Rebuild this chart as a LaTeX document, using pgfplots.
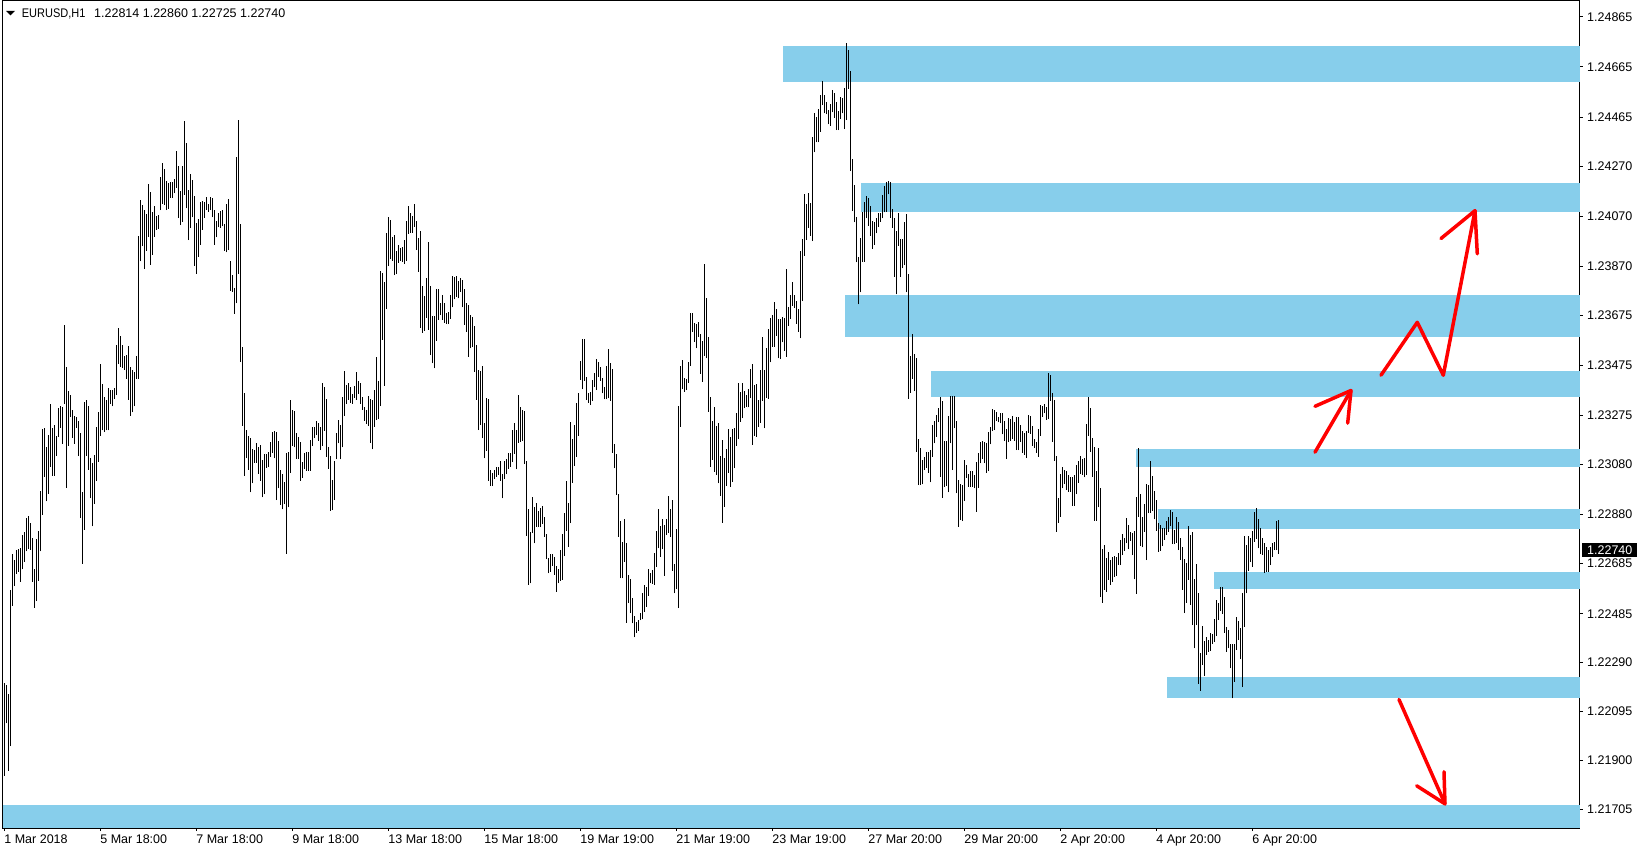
\documentclass[border=0pt]{standalone}
\usepackage{pgfplots}
\pgfplotsset{compat=1.18}
\usepackage{pgfplotstable}
\usepackage{fontspec}
\setmainfont{Liberation Sans}
\usepackage{graphicx}
\definecolor{band}{RGB}{135,206,235}
\definecolor{arr}{RGB}{255,0,0}
\newcommand{\tfont}{\fontsize{12.5}{14}\selectfont}

\pgfplotstableread{
i lo hi
0 1.21840 1.22210
1 1.22048 1.22201
2 1.21858 1.22165
3 1.21957 1.22581
4 1.22517 1.22725
5 1.22595 1.22698
6 1.22644 1.22740
7 1.22653 1.22743
8 1.22613 1.22747
9 1.22662 1.22797
10 1.22693 1.22812
11 1.22734 1.22866
12 1.22743 1.22873
13 1.22740 1.22848
14 1.22613 1.22788
15 1.22508 1.22662
16 1.22535 1.22783
17 1.22617 1.22815
18 1.22734 1.22974
19 1.22879 1.23222
20 1.23032 1.23227
21 1.22933 1.23149
22 1.22963 1.23198
23 1.23072 1.23321
24 1.23036 1.23227
25 1.23036 1.23238
26 1.23113 1.23195
27 1.23191 1.23307
28 1.23227 1.23312
29 1.23162 1.23308
30 1.23321 1.23637
31 1.22987 1.23469
32 1.23155 1.23372
33 1.23270 1.23357
34 1.23186 1.23299
35 1.23162 1.23274
36 1.23227 1.23270
37 1.23113 1.23252
38 1.22866 1.23204
39 1.22685 1.22969
40 1.22819 1.23328
41 1.23113 1.23336
42 1.23059 1.23312
43 1.22945 1.23104
44 1.22833 1.23086
45 1.22924 1.23119
46 1.23014 1.23231
47 1.23090 1.23289
48 1.23195 1.23480
49 1.23216 1.23402
50 1.23209 1.23348
51 1.23216 1.23339
52 1.23216 1.23384
53 1.23321 1.23379
54 1.23312 1.23379
55 1.23343 1.23386
56 1.23357 1.23556
57 1.23480 1.23624
58 1.23469 1.23592
59 1.23466 1.23556
60 1.23457 1.23511
61 1.23420 1.23516
62 1.23339 1.23552
63 1.23274 1.23469
64 1.23288 1.23457
65 1.23312 1.23448
66 1.23420 1.23511
67 1.23420 1.23993
68 1.23890 1.24134
69 1.23950 1.24116
70 1.23859 1.24094
71 1.23932 1.24080
72 1.23989 1.24197
73 1.23877 1.24166
74 1.23917 1.24087
75 1.23989 1.24112
76 1.24016 1.24072
77 1.24018 1.24076
78 1.24094 1.24228
79 1.24119 1.24282
80 1.24116 1.24257
81 1.24094 1.24210
82 1.24098 1.24202
83 1.24143 1.24206
84 1.24143 1.24206
85 1.24161 1.24220
86 1.24184 1.24329
87 1.24062 1.24269
88 1.24034 1.24170
89 1.24047 1.24269
90 1.24155 1.24450
91 1.24101 1.24360
92 1.23975 1.24173
93 1.24022 1.24238
94 1.24065 1.24215
95 1.23872 1.24152
96 1.23841 1.24043
97 1.23908 1.24058
98 1.23957 1.24125
99 1.24016 1.24130
100 1.24062 1.24125
101 1.24094 1.24148
102 1.24087 1.24119
103 1.24094 1.24148
104 1.24065 1.24143
105 1.23957 1.24094
106 1.23986 1.24052
107 1.24025 1.24083
108 1.24022 1.24089
109 1.24029 1.24094
110 1.23932 1.24040
111 1.23926 1.24119
112 1.23935 1.24137
113 1.23773 1.23890
114 1.23769 1.23836
115 1.23682 1.23782
116 1.23722 1.24305
117 1.23841 1.24455
118 1.23489 1.24040
119 1.23234 1.23547
120 1.23036 1.23366
121 1.23104 1.23216
122 1.23059 1.23195
123 1.22969 1.23186
124 1.23005 1.23140
125 1.23086 1.23137
126 1.23086 1.23166
127 1.23044 1.23148
128 1.23015 1.23157
129 1.22949 1.23098
130 1.22962 1.23121
131 1.23068 1.23121
132 1.23071 1.23131
133 1.23111 1.23171
134 1.23127 1.23209
135 1.23104 1.23214
136 1.22938 1.23209
137 1.22985 1.23175
138 1.22919 1.23060
139 1.22901 1.23042
140 1.22922 1.23011
141 1.22725 1.23127
142 1.22909 1.23131
143 1.23047 1.23337
144 1.23153 1.23297
145 1.23148 1.23293
146 1.23103 1.23204
147 1.23103 1.23188
148 1.23015 1.23169
149 1.23028 1.23091
150 1.23063 1.23127
151 1.23055 1.23131
152 1.23055 1.23129
153 1.23055 1.23177
154 1.23153 1.23228
155 1.23184 1.23230
156 1.23197 1.23254
157 1.23175 1.23244
158 1.23137 1.23228
159 1.23153 1.23406
160 1.23214 1.23390
161 1.23111 1.23342
162 1.23063 1.23151
163 1.22895 1.23113
164 1.22898 1.23018
165 1.22938 1.23095
166 1.23100 1.23207
167 1.23164 1.23257
168 1.23100 1.23237
169 1.23148 1.23350
170 1.23273 1.23454
171 1.23323 1.23398
172 1.23339 1.23406
173 1.23326 1.23387
174 1.23323 1.23361
175 1.23347 1.23393
176 1.23339 1.23450
177 1.23363 1.23414
178 1.23323 1.23403
179 1.23299 1.23350
180 1.23254 1.23310
181 1.23241 1.23297
182 1.23233 1.23353
183 1.23167 1.23343
184 1.23140 1.23339
185 1.23230 1.23379
186 1.23257 1.23509
187 1.23260 1.23414
188 1.23313 1.23852
189 1.23578 1.23844
190 1.23393 1.23809
191 1.23698 1.24004
192 1.23871 1.24065
193 1.23898 1.24054
194 1.23892 1.23988
195 1.23835 1.23995
196 1.23839 1.23932
197 1.23884 1.23955
198 1.23892 1.23945
199 1.23888 1.23948
200 1.23879 1.23977
201 1.23892 1.24052
202 1.23999 1.24110
203 1.24004 1.24084
204 1.24004 1.24070
205 1.24028 1.24118
206 1.23935 1.24052
207 1.23848 1.23984
208 1.23626 1.24012
209 1.23605 1.23791
210 1.23613 1.23751
211 1.23666 1.23822
212 1.23618 1.23968
213 1.23516 1.23791
214 1.23483 1.23672
215 1.23463 1.23672
216 1.23573 1.23778
217 1.23656 1.23778
218 1.23676 1.23722
219 1.23658 1.23755
220 1.23645 1.23725
221 1.23640 1.23685
222 1.23640 1.23689
223 1.23662 1.23755
224 1.23706 1.23831
225 1.23738 1.23826
226 1.23749 1.23831
227 1.23742 1.23813
228 1.23769 1.23822
229 1.23706 1.23815
230 1.23636 1.23778
231 1.23609 1.23722
232 1.23509 1.23716
233 1.23543 1.23676
234 1.23549 1.23669
235 1.23450 1.23632
236 1.23339 1.23556
237 1.23217 1.23456
238 1.23237 1.23452
239 1.23184 1.23472
240 1.23104 1.23244
241 1.23135 1.23347
242 1.23015 1.23343
243 1.22994 1.23060
244 1.22994 1.23047
245 1.23024 1.23060
246 1.23031 1.23071
247 1.23038 1.23071
248 1.23015 1.23095
249 1.22945 1.23042
250 1.23024 1.23095
251 1.23042 1.23100
252 1.23064 1.23124
253 1.23071 1.23124
254 1.23091 1.23218
255 1.23122 1.23244
256 1.23061 1.23218
257 1.23167 1.23357
258 1.23171 1.23308
259 1.23175 1.23297
260 1.23082 1.23295
261 1.22795 1.23095
262 1.22600 1.22901
263 1.22606 1.22812
264 1.22806 1.22949
265 1.22766 1.22909
266 1.22832 1.22928
267 1.22830 1.22896
268 1.22830 1.22905
269 1.22843 1.22915
270 1.22792 1.22869
271 1.22702 1.22803
272 1.22646 1.22706
273 1.22653 1.22723
274 1.22675 1.22723
275 1.22640 1.22710
276 1.22573 1.22675
277 1.22606 1.22662
278 1.22617 1.22739
279 1.22620 1.22803
280 1.22715 1.22885
281 1.22816 1.23016
282 1.22752 1.22928
283 1.22846 1.23251
284 1.23008 1.23180
285 1.23074 1.23238
286 1.23111 1.23327
287 1.23194 1.23366
288 1.23417 1.23494
289 1.23380 1.23579
290 1.23414 1.23579
291 1.23337 1.23428
292 1.23327 1.23366
293 1.23317 1.23370
294 1.23335 1.23417
295 1.23388 1.23446
296 1.23377 1.23499
297 1.23430 1.23489
298 1.23414 1.23468
299 1.23364 1.23424
300 1.23340 1.23388
301 1.23340 1.23473
302 1.23344 1.23539
303 1.23335 1.23483
304 1.23127 1.23459
305 1.23065 1.23162
306 1.22959 1.23122
307 1.22792 1.22962
308 1.22626 1.22856
309 1.22626 1.22772
310 1.22693 1.22861
311 1.22449 1.22766
312 1.22527 1.22640
313 1.22487 1.22622
314 1.22447 1.22547
315 1.22391 1.22476
316 1.22410 1.22453
317 1.22418 1.22460
318 1.22460 1.22487
319 1.22463 1.22566
320 1.22493 1.22600
321 1.22513 1.22593
322 1.22556 1.22662
323 1.22606 1.22649
324 1.22604 1.22659
325 1.22600 1.22726
326 1.22673 1.22816
327 1.22746 1.22901
328 1.22713 1.22835
329 1.22742 1.22861
330 1.22636 1.22839
331 1.22799 1.22861
332 1.22806 1.22954
333 1.22790 1.22901
334 1.22657 1.22939
335 1.22566 1.22683
336 1.22582 1.22822
337 1.22507 1.23313
338 1.23231 1.23473
339 1.23380 1.23497
340 1.23371 1.23424
341 1.23377 1.23420
342 1.23406 1.23490
343 1.23473 1.23686
344 1.23610 1.23683
345 1.23570 1.23646
346 1.23543 1.23640
347 1.23590 1.23650
348 1.23441 1.23600
349 1.23410 1.23574
350 1.23513 1.23879
351 1.23503 1.23743
352 1.23291 1.23587
353 1.23071 1.23348
354 1.23098 1.23255
355 1.23052 1.23308
356 1.23038 1.23234
357 1.23005 1.23247
358 1.22954 1.23114
359 1.22848 1.23178
360 1.22912 1.23105
361 1.22994 1.23141
362 1.23048 1.23220
363 1.22992 1.23188
364 1.23012 1.23220
365 1.23065 1.23224
366 1.23154 1.23284
367 1.23180 1.23404
368 1.23251 1.23370
369 1.23264 1.23406
370 1.23304 1.23374
371 1.23311 1.23357
372 1.23308 1.23380
373 1.23344 1.23459
374 1.23158 1.23481
375 1.23194 1.23397
376 1.23191 1.23401
377 1.23231 1.23337
378 1.23247 1.23457
379 1.23335 1.23590
380 1.23224 1.23457
381 1.23346 1.23543
382 1.23343 1.23620
383 1.23487 1.23665
384 1.23549 1.23676
385 1.23549 1.23729
386 1.23593 1.23700
387 1.23503 1.23660
388 1.23500 1.23662
389 1.23567 1.23669
390 1.23532 1.23665
391 1.23510 1.23859
392 1.23633 1.23709
393 1.23662 1.23755
394 1.23713 1.23809
395 1.23705 1.23755
396 1.23642 1.23731
397 1.23609 1.23700
398 1.23583 1.23931
399 1.23731 1.23979
400 1.23912 1.24157
401 1.23975 1.24117
402 1.24024 1.24161
403 1.23992 1.24121
404 1.23971 1.24387
405 1.24324 1.24480
406 1.24364 1.24466
407 1.24364 1.24497
408 1.24407 1.24553
409 1.24513 1.24609
410 1.24480 1.24555
411 1.24476 1.24526
412 1.24436 1.24493
413 1.24430 1.24516
414 1.24484 1.24573
415 1.24462 1.24563
416 1.24413 1.24526
417 1.24413 1.24489
418 1.24457 1.24546
419 1.24480 1.24542
420 1.24417 1.24582
421 1.24453 1.24759
422 1.24579 1.24732
423 1.24250 1.24648
424 1.24090 1.24300
425 1.24045 1.24194
426 1.23886 1.24068
427 1.23718 1.23908
428 1.23766 1.23984
429 1.23888 1.24088
430 1.23888 1.24127
431 1.24061 1.24151
432 1.24032 1.24143
433 1.23992 1.24112
434 1.23941 1.24050
435 1.23957 1.24045
436 1.24001 1.24064
437 1.24028 1.24081
438 1.24048 1.24081
439 1.24061 1.24154
440 1.24085 1.24191
441 1.24088 1.24207
442 1.24157 1.24210
443 1.24064 1.24205
444 1.24024 1.24098
445 1.23829 1.24064
446 1.23758 1.24011
447 1.23952 1.24081
448 1.23829 1.23979
449 1.23862 1.23979
450 1.23875 1.24048
451 1.23766 1.24077
452 1.23343 1.23838
453 1.23367 1.23514
454 1.23420 1.23599
455 1.23373 1.23519
456 1.23131 1.23506
457 1.22998 1.23181
458 1.22998 1.23147
459 1.23001 1.23098
460 1.23058 1.23111
461 1.23067 1.23131
462 1.23048 1.23131
463 1.23009 1.23137
464 1.23111 1.23237
465 1.23164 1.23253
466 1.23191 1.23277
467 1.23248 1.23306
468 1.23031 1.23350
469 1.22947 1.23333
470 1.22991 1.23173
471 1.22995 1.23173
472 1.22969 1.23274
473 1.23164 1.23354
474 1.23058 1.23354
475 1.23224 1.23354
476 1.22965 1.23253
477 1.22832 1.23018
478 1.22858 1.23004
479 1.22854 1.23000
480 1.22934 1.23098
481 1.23027 1.23078
482 1.22991 1.23044
483 1.22991 1.23054
484 1.22991 1.23054
485 1.22985 1.23038
486 1.22891 1.23088
487 1.22987 1.23124
488 1.23084 1.23171
489 1.23101 1.23173
490 1.23084 1.23171
491 1.23048 1.23164
492 1.23054 1.23211
493 1.23160 1.23230
494 1.23213 1.23301
495 1.23217 1.23297
496 1.23253 1.23288
497 1.23248 1.23270
498 1.23244 1.23284
499 1.23200 1.23284
500 1.23173 1.23253
501 1.23101 1.23221
502 1.23168 1.23266
503 1.23173 1.23261
504 1.23181 1.23274
505 1.23173 1.23248
506 1.23137 1.23270
507 1.23137 1.23270
508 1.23171 1.23238
509 1.23127 1.23215
510 1.23118 1.23204
511 1.23105 1.23215
512 1.23207 1.23277
513 1.23202 1.23273
514 1.23154 1.23234
515 1.23145 1.23180
516 1.23127 1.23171
517 1.23111 1.23220
518 1.23194 1.23317
519 1.23271 1.23313
520 1.23284 1.23321
521 1.23258 1.23311
522 1.23260 1.23444
523 1.23335 1.23437
524 1.23171 1.23366
525 1.23095 1.23337
526 1.22812 1.23114
527 1.22848 1.22945
528 1.22872 1.23042
529 1.22985 1.23069
530 1.23002 1.23058
531 1.22978 1.23056
532 1.22972 1.23038
533 1.22972 1.23029
534 1.22915 1.23029
535 1.22915 1.23038
536 1.22962 1.23078
537 1.23008 1.23095
538 1.23042 1.23114
539 1.23038 1.23101
540 1.23029 1.23105
541 1.23038 1.23242
542 1.23194 1.23351
543 1.23131 1.23304
544 1.23032 1.23184
545 1.22856 1.23151
546 1.22856 1.23056
547 1.22909 1.23145
548 1.22553 1.22985
549 1.22529 1.22742
550 1.22580 1.22759
551 1.22573 1.22706
552 1.22620 1.22733
553 1.22600 1.22699
554 1.22613 1.22713
555 1.22633 1.22715
556 1.22636 1.22713
557 1.22679 1.22726
558 1.22679 1.22779
559 1.22719 1.22803
560 1.22737 1.22786
561 1.22766 1.22865
562 1.22742 1.22839
563 1.22776 1.22812
564 1.22719 1.22808
565 1.22622 1.22816
566 1.22564 1.22949
567 1.22872 1.23145
568 1.22755 1.22962
569 1.22750 1.22872
570 1.22812 1.22923
571 1.22699 1.23002
572 1.22885 1.22998
573 1.22888 1.23095
574 1.22896 1.23034
575 1.22861 1.22976
576 1.22816 1.22939
577 1.22733 1.22846
578 1.22737 1.22839
579 1.22755 1.22826
580 1.22779 1.22826
581 1.22799 1.22856
582 1.22812 1.22872
583 1.22835 1.22899
584 1.22763 1.22892
585 1.22763 1.22819
586 1.22768 1.22872
587 1.22739 1.22852
588 1.22699 1.22786
589 1.22580 1.22752
590 1.22487 1.22702
591 1.22529 1.22686
592 1.22620 1.22835
593 1.22520 1.22799
594 1.22440 1.22812
595 1.22347 1.22622
596 1.22440 1.22683
597 1.22205 1.22566
598 1.22178 1.22327
599 1.22281 1.22436
600 1.22237 1.22378
601 1.22321 1.22394
602 1.22334 1.22380
603 1.22338 1.22410
604 1.22364 1.22404
605 1.22374 1.22463
606 1.22396 1.22540
607 1.22460 1.22529
608 1.22497 1.22593
609 1.22484 1.22593
610 1.22410 1.22553
611 1.22334 1.22431
612 1.22347 1.22420
613 1.22267 1.22364
614 1.22148 1.22364
615 1.22214 1.22364
616 1.22340 1.22473
617 1.22380 1.22457
618 1.22303 1.22427
619 1.22192 1.22566
620 1.22434 1.22795
621 1.22566 1.22759
622 1.22657 1.22795
623 1.22693 1.22786
624 1.22673 1.22816
625 1.22772 1.22892
626 1.22782 1.22905
627 1.22746 1.22861
628 1.22723 1.22826
629 1.22719 1.22786
630 1.22649 1.22766
631 1.22653 1.22750
632 1.22653 1.22739
633 1.22679 1.22752
634 1.22713 1.22768
635 1.22739 1.22772
636 1.22739 1.22856
637 1.22725 1.22860
}\bars

\begin{document}
\begin{tikzpicture}[x=1pt,y=1pt]
\path[use as bounding box] (0,0) rectangle (1640,852);
\begin{axis}[
  at={(2.7pt,24pt)}, anchor=south west,
  scale only axis, width=1577.3pt, height=827pt,
  xmin=-0.75, xmax=787.9, ymin=1.216307, ymax=1.249280,
  axis line style={line width=1pt, black},
  clip=false,
  xtick={0,48,96,144,192,240,288,336,384,432,480,528,576,624},
  xticklabels={1 Mar 2018, 5 Mar 18:00, 7 Mar 18:00, 9 Mar 18:00, 13 Mar 18:00, 15 Mar 18:00, 19 Mar 19:00, 21 Mar 19:00, 23 Mar 19:00, 27 Mar 20:00, 29 Mar 20:00, 2 Apr 20:00, 4 Apr 20:00, 6 Apr 20:00},
  ytick={1.24865,1.24665,1.24465,1.24270,1.24070,1.23870,1.23675,1.23475,1.23275,1.23080,1.22880,1.22685,1.22485,1.22290,1.22095,1.21900,1.21705},
  yticklabels={1.24865,1.24665,1.24465,1.24270,1.24070,1.23870,1.23675,1.23475,1.23275,1.23080,1.22880,1.22685,1.22485,1.22290,1.22095,1.21900,1.21705},
  xtick pos=left, ytick pos=right,
  tick align=outside, major tick length=3pt,
  tick style={line width=1pt, black},
  every tick label/.append style={font=\tfont, text=black},
  xticklabel style={anchor=north west, inner sep=0pt, yshift=-4pt},
  yticklabel style={anchor=west, inner sep=0pt, xshift=4pt},
]
% zones
\fill[band] (axis cs:389.4,1.24749) rectangle (axis cs:787.9,1.24606);
\fill[band] (axis cs:428.4,1.24202) rectangle (axis cs:787.9,1.24088);
\fill[band] (axis cs:420.4,1.23756) rectangle (axis cs:787.9,1.23590);
\fill[band] (axis cs:463.4,1.23453) rectangle (axis cs:787.9,1.23350);
\fill[band] (axis cs:565.9,1.23142) rectangle (axis cs:787.9,1.23071);
\fill[band] (axis cs:576.9,1.22903) rectangle (axis cs:787.9,1.22824);
\fill[band] (axis cs:604.9,1.22651) rectangle (axis cs:787.9,1.22585);
\fill[band] (axis cs:581.4,1.22234) rectangle (axis cs:787.9,1.22150);
\fill[band] (axis cs:-0.75,1.21722) rectangle (axis cs:787.9,1.216307);
% H1 bars (low to high)
\addplot[draw=none, no markers, forget plot,
  error bars/.cd, y dir=plus, y explicit, error mark=none,
  error bar style={draw=black, line width=1pt}]
  table[x=i, y=lo, y error expr=\thisrow{hi}-\thisrow{lo}] {\bars};
% red arrows
\begin{scope}[draw=arr, line width=3.5pt, line cap=round, line join=round]
\draw (axis cs:655.4,1.23129) -- (axis cs:673.4,1.23375);
\draw (axis cs:655.4,1.23312) -- (axis cs:673.4,1.23375) -- (axis cs:671.75,1.23245);
\draw (axis cs:688.4,1.23436) -- (axis cs:706.55,1.23647) -- (axis cs:719.55,1.23436) -- (axis cs:735.4,1.24092);
\draw (axis cs:718.4,1.23981) -- (axis cs:735.4,1.24092) -- (axis cs:736.55,1.23920);
\draw (axis cs:697.4,1.22143) -- (axis cs:720.4,1.21727);
\draw (axis cs:706.25,1.21799) -- (axis cs:720.4,1.21727) -- (axis cs:719.9,1.21855);
\end{scope}
\end{axis}
% header
\fill[black] (6,841) -- (15,841) -- (10.5,836.5) -- cycle;
\node[anchor=base west, inner sep=0pt, font=\tfont] at (21.7,834.7) {\scalebox{0.88}[1]{EURUSD,H1}};
\node[anchor=base west, inner sep=0pt, font=\tfont] at (94,834.7) {1.22814 1.22860 1.22725 1.22740};
% current price label
\node[anchor=west, fill=black, text=white, inner xsep=5pt, inner ysep=0pt, minimum height=14pt, font=\tfont] at (1582,302.2) {1.22740};
\end{tikzpicture}
\end{document}
